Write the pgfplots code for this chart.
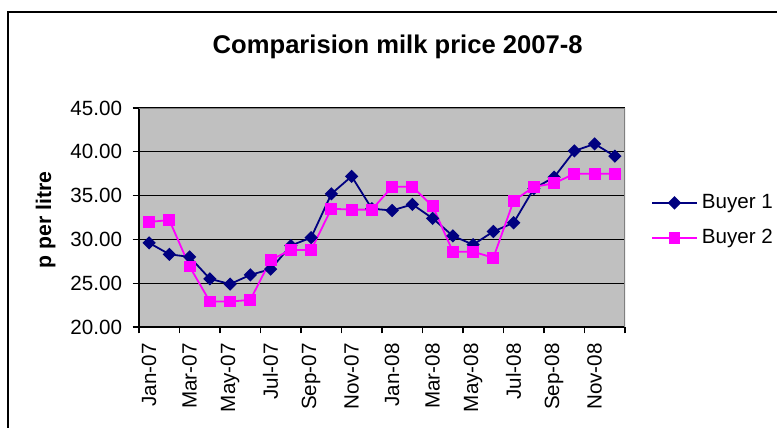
\documentclass[border=0pt]{standalone}
\usepackage{fontspec}
\setmainfont{Liberation Sans}
\usepackage{pgfplots}
\pgfplotsset{compat=1.18}
\definecolor{navyb}{HTML}{000080}
\definecolor{magb}{HTML}{FF00FF}
\definecolor{plotgray}{HTML}{C0C0C0}
\definecolor{framegray}{HTML}{808080}
\begin{document}
\begin{tikzpicture}
\useasboundingbox (0,0) rectangle (388.5pt,214pt);
\fill[white] (0,0) rectangle (388.5pt,214pt);
\draw[line width=1pt] (4.15pt,-1pt) -- (4.15pt,208.15pt) -- (390pt,208.15pt);
\begin{axis}[
  at={(69.5pt,50.5pt)}, anchor=south west,
  scale only axis, width=243pt, height=109.5pt,
  xmin=-0.5, xmax=23.5, ymin=20, ymax=45,
  axis background/.style={fill=plotgray},
  axis x line*=bottom, axis y line*=left,
  axis line style={black, line width=0.7pt, -},
  tick align=outside, major tick length=3.2pt,
  tick style={black, line width=0.6pt},
  xtick={-0.5,1.5,...,23.5}, xticklabels={},
  extra x ticks={0,2,...,22},
  extra x tick labels={Jan-07,Mar-07,May-07,Jul-07,Sep-07,Nov-07,Jan-08,Mar-08,May-08,Jul-08,Sep-08,Nov-08},
  extra x tick style={major tick length=0pt, tick style={draw=none}},
  x tick label style={rotate=90, anchor=east, inner sep=0pt, font=\fontsize{10.3}{12}\selectfont},
  xticklabel shift=8pt,
  ytick={20,25,...,45},
  yticklabels={20.00,25.00,30.00,35.00,40.00,45.00},
  y tick label style={anchor=east, inner sep=0pt, font=\fontsize{10.3}{12}\selectfont},
  yticklabel shift=5.1pt,
  ymajorgrids, grid style={black, line width=0.6pt},
  ylabel={p per litre},
  every axis y label/.style={at={(axis description cs:-0.192,0.489)}, rotate=90, anchor=center, font=\bfseries\fontsize{10.6}{12}\selectfont},
  title={Comparision milk price 2007-8},
  every axis title/.style={at={(axis description cs:0.5,1)}, anchor=base, xshift=7.85pt, yshift=27.35pt, font=\bfseries\fontsize{12.8}{15}\selectfont},
  legend entries={Buyer 1, Buyer 2},
  legend style={draw=none, fill=none, at={(1.0529,0.486)}, anchor=west, inner sep=0pt, row sep=5pt, font=\fontsize{10.3}{12}\selectfont},
  legend cell align=left,
  legend image code/.code={\draw[mark repeat=2,mark phase=2] plot coordinates {(0pt,0pt)(11.25pt,0pt)(22.5pt,0pt)};},
]
\addplot[navyb, line width=0.9pt, mark=square*, mark size=1.9pt, mark options={rotate=45, solid}] coordinates {
(0,29.6) (1,28.3) (2,28.0) (3,25.5) (4,24.9) (5,25.95) (6,26.6) (7,29.3) (8,30.2) (9,35.2) (10,37.2) (11,33.5)
(12,33.3) (13,34.0) (14,32.4) (15,30.4) (16,29.4) (17,30.9) (18,31.9) (19,35.8) (20,37.1) (21,40.1) (22,40.9) (23,39.5)
};
\addplot[magb, line width=0.9pt, mark=square*, mark size=2.5pt, mark options={solid}] coordinates {
(0,32.0) (1,32.2) (2,26.9) (3,22.9) (4,22.9) (5,23.1) (6,27.65) (7,28.8) (8,28.8) (9,33.5) (10,33.4) (11,33.4)
(12,36.0) (13,36.0) (14,33.8) (15,28.6) (16,28.6) (17,27.9) (18,34.4) (19,36.0) (20,36.4) (21,37.5) (22,37.5) (23,37.5)
};
\draw[framegray, line width=0.8pt] (rel axis cs:0,1) -- (rel axis cs:1,1) -- (rel axis cs:1,0);
\end{axis}
\end{tikzpicture}
\end{document}
